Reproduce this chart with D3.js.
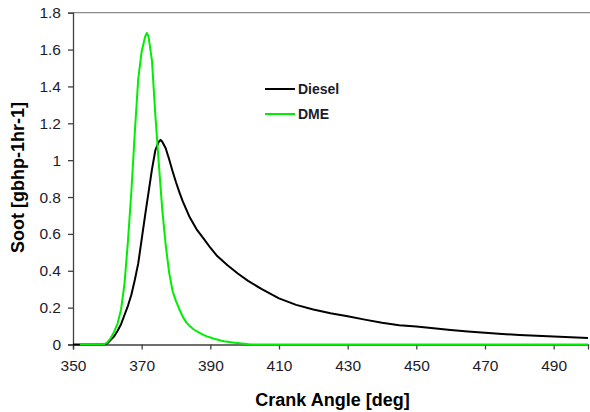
<!DOCTYPE html>
<html>
<head>
<meta charset="utf-8">
<script src="https://cdn.jsdelivr.net/npm/d3@7"></script>
<style>
  html, body { margin: 0; padding: 0; background: #fff; }
  svg { display: block; }
</style>
</head>
<body>
<svg id="chart" width="590" height="412"></svg>
<script>
// ---- data ----
const xTicks = [350, 370, 390, 410, 430, 450, 470, 490];
const yTicks = [0, 0.2, 0.4, 0.6, 0.8, 1, 1.2, 1.4, 1.6, 1.8];

const dieselAngle = [350, 355, 359, 360, 361, 362, 363, 364, 365, 366, 367, 368, 369, 370, 371, 372, 373, 374, 375, 375.5, 376, 377, 378, 379, 380, 381, 382, 384, 386, 388, 390, 392, 395, 398, 401, 405, 410, 415, 420, 425, 430, 435, 440, 445, 450, 455, 460, 465, 470, 475, 480, 485, 490, 495, 500];
const dieselSoot  = [0, 0, 0, 0.006, 0.025, 0.045, 0.075, 0.11, 0.16, 0.21, 0.27, 0.35, 0.44, 0.57, 0.7, 0.825, 0.95, 1.055, 1.1, 1.11, 1.1, 1.065, 1.005, 0.94, 0.88, 0.825, 0.775, 0.69, 0.625, 0.576, 0.525, 0.48, 0.43, 0.385, 0.345, 0.3, 0.25, 0.215, 0.19, 0.17, 0.153, 0.135, 0.118, 0.105, 0.097, 0.088, 0.079, 0.071, 0.064, 0.057, 0.051, 0.047, 0.044, 0.04, 0.035];

const dmeAngle = [352, 355, 358, 359, 360, 361, 362, 363, 364, 365, 366, 367, 368, 369, 370, 371, 371.5, 372, 373, 374, 375, 376, 377, 378, 379, 380, 381, 382, 383, 384, 385, 386, 387, 388, 389, 390, 391, 392, 393, 394, 395, 396, 397, 398, 399, 400, 401, 402, 420, 450, 480, 500];
const dmeSoot  = [0, 0, 0, 0, 0.012, 0.035, 0.07, 0.115, 0.19, 0.33, 0.56, 0.83, 1.15, 1.44, 1.59, 1.67, 1.69, 1.67, 1.54, 1.24, 0.98, 0.73, 0.54, 0.39, 0.29, 0.235, 0.19, 0.15, 0.12, 0.1, 0.084, 0.072, 0.062, 0.052, 0.044, 0.038, 0.032, 0.027, 0.022, 0.018, 0.015, 0.012, 0.01, 0.008, 0.006, 0.004, 0.002, 0, 0, 0, 0, 0];

const seriesNames = ["Diesel", "DME"];
const seriesColors = ["#000000", "#00ee00"];

// ---- layout ----
const svg = d3.select("#chart");
const mLeft = 73, mRight = 588, mTop = 12.7, mBottom = 344.5;

const x = d3.scaleLinear().domain([350, 500]).range([mLeft, mRight]);
const y = d3.scaleLinear().domain([0, 1.8]).range([mBottom, mTop]);

const tickFont = "Liberation Sans, Arial, sans-serif";
const textColor = "#1c1c2c";

// top border
svg.append("line")
  .attr("x1", mLeft).attr("x2", 590)
  .attr("y1", mTop).attr("y2", mTop)
  .attr("stroke", "#8c8c8c").attr("stroke-width", 1.2);

// y axis
const yAxis = d3.axisLeft(y).tickValues(yTicks).tickSize(5).tickPadding(7)
  .tickFormat(d3.format("~g"));
const gy = svg.append("g").attr("transform", `translate(${mLeft},0)`).call(yAxis);
gy.select(".domain").attr("stroke", "#404040").attr("stroke-width", 1.3);
gy.selectAll(".tick line").attr("stroke", "#404040").attr("stroke-width", 1.3);
gy.selectAll(".tick text")
  .attr("font-family", tickFont).attr("font-size", 15.5)
  .attr("fill", textColor);

// x axis
const xAxis = d3.axisBottom(x).tickValues(xTicks).tickSize(5).tickPadding(10)
  .tickFormat(d3.format("d"));
const gx = svg.append("g").attr("transform", `translate(0,${mBottom})`).call(xAxis);
gx.select(".domain").attr("stroke", "#404040").attr("stroke-width", 1.3);
gx.selectAll(".tick line").attr("stroke", "#404040").attr("stroke-width", 1.3);
gx.selectAll(".tick text")
  .attr("font-family", tickFont).attr("font-size", 15.5)
  .attr("fill", textColor);

// lines
const line = d3.line().x(d => x(d[0])).y(d => y(d[1]));
const dieselData = dieselAngle.map((a, i) => [a, dieselSoot[i]]);
const dmeData = dmeAngle.map((a, i) => [a, dmeSoot[i]]);

svg.append("path").datum(dieselData)
  .attr("d", line).attr("fill", "none")
  .attr("stroke", seriesColors[0]).attr("stroke-width", 2)
  .attr("stroke-linejoin", "round");
svg.append("path").datum(dmeData)
  .attr("d", line).attr("fill", "none")
  .attr("stroke", seriesColors[1]).attr("stroke-width", 2)
  .attr("stroke-linejoin", "round");

// legend
const legendY = [89, 114];
seriesNames.forEach((name, i) => {
  svg.append("line")
    .attr("x1", 265).attr("x2", 295)
    .attr("y1", legendY[i]).attr("y2", legendY[i])
    .attr("stroke", seriesColors[i]).attr("stroke-width", 2);
  svg.append("text")
    .attr("x", 298).attr("y", legendY[i]).attr("dy", "0.36em")
    .attr("font-family", tickFont).attr("font-size", 14)
    .attr("font-weight", "bold")
    .attr("fill", textColor)
    .text(name);
});

// axis titles
svg.append("text")
  .attr("x", 332.5).attr("y", 406)
  .attr("text-anchor", "middle")
  .attr("font-family", tickFont).attr("font-size", 18).attr("font-weight", "bold")
  .attr("fill", "#000")
  .text("Crank Angle [deg]");

svg.append("text")
  .attr("transform", "translate(24,177.5) rotate(-90)")
  .attr("text-anchor", "middle")
  .attr("font-family", tickFont).attr("font-size", 18).attr("font-weight", "bold")
  .attr("fill", "#000")
  .text("Soot [gbhp-1hr-1]");
</script>
</body>
</html>
